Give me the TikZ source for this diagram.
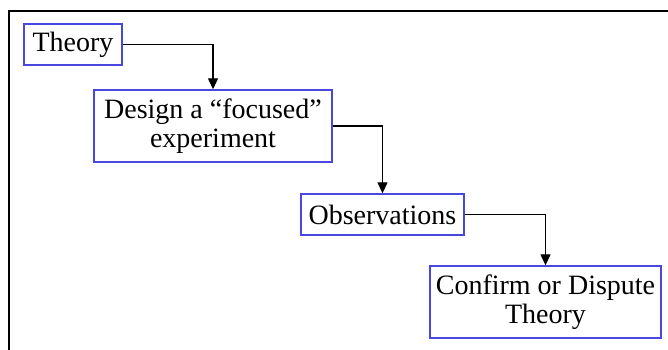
\documentclass[tikz,border=0pt]{standalone}
\usepackage{fontspec}
\setmainfont{Liberation Serif}
\usetikzlibrary{arrows.meta}
\definecolor{boxblue}{RGB}{72,72,222}
\tikzset{
  stagebox/.style={draw=boxblue, line width=1.4pt, fill=white, inner sep=0pt,
    align=center, font=\fontsize{28}{29}\selectfont, text=black},
  flow/.style={line width=1.3pt, -{Triangle[length=11pt,width=10pt]}},
  frameline/.style={line width=2pt, black}
}
\begin{document}
\begin{tikzpicture}[x=1pt,y=-1pt]
  \useasboundingbox (0,0) rectangle (668,350);
  \fill[white] (0,0) rectangle (668,350);
  % outer frame, top and left edges
  \coordinate (fa) at (9,350);
  \coordinate (fb) at (9,11);
  \coordinate (fc) at (668,11);
  \draw[frameline] (fa) -- (fb) -- (fc);
  % stages
  \node[stagebox, minimum width=98pt, minimum height=41pt] (theory) at (73,44.5) {Theory};
  \node[stagebox, minimum width=238pt, minimum height=72pt] (design) at (213,126)
    {Design a “focused”\\experiment};
  \node[stagebox, minimum width=163pt, minimum height=41pt] (obs) at (382.5,214.5) {Observations};
  \node[stagebox, minimum width=231pt, minimum height=72pt] (confirm) at (545.5,302)
    {Confirm or Dispute\\Theory};
  % connectors
  \draw[flow] (theory.east) -| (design.north);
  \draw[flow] (design.east) -| (obs.north);
  \draw[flow] (obs.east) -| (confirm.north);
\end{tikzpicture}
\end{document}
